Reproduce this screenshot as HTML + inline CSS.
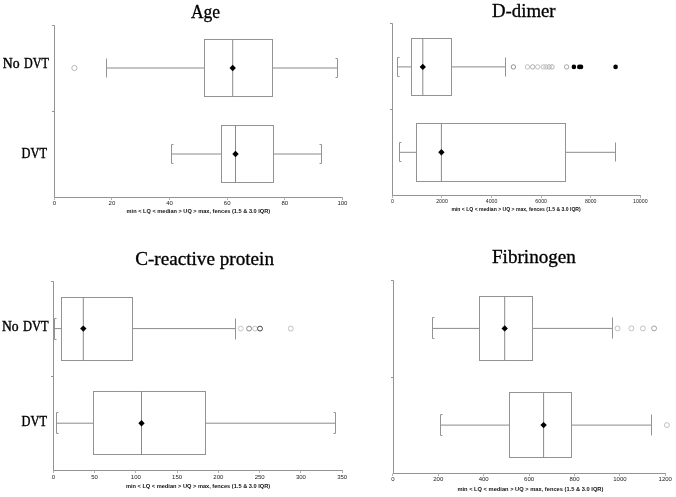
<!DOCTYPE html>
<html><head><meta charset="utf-8"><style>
html,body{margin:0;padding:0;background:#fff;}
body{width:676px;height:497px;overflow:hidden;}
svg{display:block;filter:grayscale(1);}
</style></head><body>
<svg width="676" height="497" viewBox="0 0 676 497">
<rect width="676" height="497" fill="#fff"/>
<line x1="54.5" y1="25.5" x2="54.5" y2="198" stroke="#939393" stroke-width="1"/>
<line x1="52" y1="25.5" x2="54.5" y2="25.5" stroke="#939393" stroke-width="1"/>
<line x1="52" y1="111.5" x2="54.5" y2="111.5" stroke="#939393" stroke-width="1"/>
<line x1="54" y1="197.5" x2="343" y2="197.5" stroke="#939393" stroke-width="1"/>
<line x1="54.5" y1="197.5" x2="54.5" y2="200" stroke="#b0b0b0" stroke-width="1"/>
<text x="54.3" y="205.4" font-family="'Liberation Sans', sans-serif" font-size="6.0" font-weight="normal" text-anchor="middle" fill="#222">0</text>
<line x1="111.5" y1="197.5" x2="111.5" y2="200" stroke="#b0b0b0" stroke-width="1"/>
<text x="111.92" y="205.4" font-family="'Liberation Sans', sans-serif" font-size="6.0" font-weight="normal" text-anchor="middle" fill="#222">20</text>
<line x1="169.5" y1="197.5" x2="169.5" y2="200" stroke="#b0b0b0" stroke-width="1"/>
<text x="169.54" y="205.4" font-family="'Liberation Sans', sans-serif" font-size="6.0" font-weight="normal" text-anchor="middle" fill="#222">40</text>
<line x1="227.5" y1="197.5" x2="227.5" y2="200" stroke="#b0b0b0" stroke-width="1"/>
<text x="227.16" y="205.4" font-family="'Liberation Sans', sans-serif" font-size="6.0" font-weight="normal" text-anchor="middle" fill="#222">60</text>
<line x1="284.5" y1="197.5" x2="284.5" y2="200" stroke="#b0b0b0" stroke-width="1"/>
<text x="284.78" y="205.4" font-family="'Liberation Sans', sans-serif" font-size="6.0" font-weight="normal" text-anchor="middle" fill="#222">80</text>
<line x1="342.5" y1="197.5" x2="342.5" y2="200" stroke="#b0b0b0" stroke-width="1"/>
<text x="342.4" y="205.4" font-family="'Liberation Sans', sans-serif" font-size="6.0" font-weight="normal" text-anchor="middle" fill="#222">100</text>
<text transform="translate(126.6 212.8) scale(1.0063 1)" font-family="'Liberation Sans', sans-serif" font-size="5.6" font-weight="bold" fill="#111">min &lt; LQ &lt; median &gt; UQ &gt; max, fences (1.5 &amp; 3.0 IQR)</text>
<text transform="translate(190.9 17.6) scale(0.9729 1)" font-family="'Liberation Serif', serif" font-size="18" font-weight="normal" fill="#000" stroke="#000" stroke-width="0.3">Age</text>
<line x1="106.5" y1="68" x2="204.5" y2="68" stroke="#8a8a8a" stroke-width="1"/>
<line x1="272.5" y1="68" x2="337.5" y2="68" stroke="#8a8a8a" stroke-width="1"/>
<line x1="106.5" y1="58.5" x2="106.5" y2="77.5" stroke="#939393" stroke-width="1"/>
<path d="M335.5 58.5H337.5V77.5H335.5" fill="none" stroke="#939393" stroke-width="1"/>
<rect x="204.5" y="39.5" width="68" height="57" fill="none" stroke="#939393" stroke-width="1"/>
<line x1="232.7" y1="39.5" x2="232.7" y2="96.5" stroke="#8a8a8a" stroke-width="1"/>
<path d="M232.7 64.8L235.9 68L232.7 71.2L229.5 68Z" fill="#000"/>
<circle cx="74.4" cy="68" r="2.6" fill="none" stroke="#b8b8b8" stroke-width="1"/>
<text transform="translate(2.75 67.8) scale(0.9818 1)" font-family="'Liberation Serif', serif" font-size="14" font-weight="normal" fill="#000" stroke="#000" stroke-width="0.4">No</text>
<text transform="translate(23.98 67.8) scale(0.8632 1)" font-family="'Liberation Serif', serif" font-size="14" font-weight="normal" fill="#000" stroke="#000" stroke-width="0.4">DVT</text>
<line x1="171.5" y1="154" x2="221.5" y2="154" stroke="#8a8a8a" stroke-width="1"/>
<line x1="273.5" y1="154" x2="321.5" y2="154" stroke="#8a8a8a" stroke-width="1"/>
<path d="M173.5 144.5H171.5V163.5H173.5" fill="none" stroke="#939393" stroke-width="1"/>
<path d="M319.5 144.5H321.5V163.5H319.5" fill="none" stroke="#939393" stroke-width="1"/>
<rect x="221.5" y="125.5" width="52" height="57" fill="none" stroke="#939393" stroke-width="1"/>
<line x1="235.5" y1="125.5" x2="235.5" y2="182.5" stroke="#8a8a8a" stroke-width="1"/>
<path d="M235.5 150.8L238.7 154L235.5 157.2L232.3 154Z" fill="#000"/>
<text transform="translate(21.58 157.9) scale(0.8842 1)" font-family="'Liberation Serif', serif" font-size="14" font-weight="normal" fill="#000" stroke="#000" stroke-width="0.4">DVT</text>
<line x1="392.5" y1="23.5" x2="392.5" y2="196" stroke="#939393" stroke-width="1"/>
<line x1="390" y1="23.5" x2="392.5" y2="23.5" stroke="#939393" stroke-width="1"/>
<line x1="390" y1="109.5" x2="392.5" y2="109.5" stroke="#939393" stroke-width="1"/>
<line x1="392" y1="195.5" x2="641" y2="195.5" stroke="#939393" stroke-width="1"/>
<line x1="392.5" y1="195.5" x2="392.5" y2="198" stroke="#b0b0b0" stroke-width="1"/>
<text transform="translate(392.4 203.1) scale(0.87 1)" font-family="'Liberation Sans', sans-serif" font-size="6.0" font-weight="normal" text-anchor="middle" fill="#222">0</text>
<line x1="441.5" y1="195.5" x2="441.5" y2="198" stroke="#b0b0b0" stroke-width="1"/>
<text transform="translate(441.98 203.1) scale(0.87 1)" font-family="'Liberation Sans', sans-serif" font-size="6.0" font-weight="normal" text-anchor="middle" fill="#222">2000</text>
<line x1="491.5" y1="195.5" x2="491.5" y2="198" stroke="#b0b0b0" stroke-width="1"/>
<text transform="translate(491.56 203.1) scale(0.87 1)" font-family="'Liberation Sans', sans-serif" font-size="6.0" font-weight="normal" text-anchor="middle" fill="#222">4000</text>
<line x1="541.5" y1="195.5" x2="541.5" y2="198" stroke="#b0b0b0" stroke-width="1"/>
<text transform="translate(541.14 203.1) scale(0.87 1)" font-family="'Liberation Sans', sans-serif" font-size="6.0" font-weight="normal" text-anchor="middle" fill="#222">6000</text>
<line x1="590.5" y1="195.5" x2="590.5" y2="198" stroke="#b0b0b0" stroke-width="1"/>
<text transform="translate(590.72 203.1) scale(0.87 1)" font-family="'Liberation Sans', sans-serif" font-size="6.0" font-weight="normal" text-anchor="middle" fill="#222">8000</text>
<line x1="640.5" y1="195.5" x2="640.5" y2="198" stroke="#b0b0b0" stroke-width="1"/>
<text transform="translate(640.3 203.1) scale(0.87 1)" font-family="'Liberation Sans', sans-serif" font-size="6.0" font-weight="normal" text-anchor="middle" fill="#222">10000</text>
<text transform="translate(451.45 211.3) scale(0.9085 1)" font-family="'Liberation Sans', sans-serif" font-size="5.6" font-weight="bold" fill="#111">min &lt; LQ &lt; median &gt; UQ &gt; max, fences (1.5 &amp; 3.0 IQR)</text>
<text transform="translate(492.04 16.7) scale(1.0436 1)" font-family="'Liberation Serif', serif" font-size="18" font-weight="normal" fill="#000" stroke="#000" stroke-width="0.3">D-dimer</text>
<line x1="397.5" y1="66.9" x2="411.5" y2="66.9" stroke="#8a8a8a" stroke-width="1"/>
<line x1="451.5" y1="66.9" x2="505.5" y2="66.9" stroke="#8a8a8a" stroke-width="1"/>
<path d="M399.5 57.5H397.5V76.5H399.5" fill="none" stroke="#939393" stroke-width="1"/>
<line x1="505.5" y1="57.5" x2="505.5" y2="76.5" stroke="#939393" stroke-width="1"/>
<rect x="411.5" y="38.5" width="40" height="57" fill="none" stroke="#939393" stroke-width="1"/>
<line x1="422.8" y1="38.5" x2="422.8" y2="95.5" stroke="#8a8a8a" stroke-width="1"/>
<path d="M422.8 63.7L426 66.9L422.8 70.1L419.6 66.9Z" fill="#000"/>
<circle cx="513.4" cy="66.9" r="2.2" fill="none" stroke="#909090" stroke-width="1"/>
<circle cx="527.4" cy="66.9" r="2.2" fill="none" stroke="#c0c0c0" stroke-width="1"/>
<circle cx="532.7" cy="66.9" r="2.2" fill="none" stroke="#b0b0b0" stroke-width="1"/>
<circle cx="537.7" cy="66.9" r="2.2" fill="none" stroke="#c0c0c0" stroke-width="1"/>
<circle cx="543.3" cy="66.9" r="2.2" fill="none" stroke="#c0c0c0" stroke-width="1"/>
<circle cx="546" cy="66.9" r="2.2" fill="none" stroke="#c0c0c0" stroke-width="1"/>
<circle cx="549.1" cy="66.9" r="2.2" fill="none" stroke="#b0b0b0" stroke-width="1"/>
<circle cx="552" cy="66.9" r="2.2" fill="none" stroke="#b0b0b0" stroke-width="1"/>
<circle cx="566.6" cy="66.9" r="2.2" fill="none" stroke="#a8a8a8" stroke-width="1"/>
<circle cx="573.9" cy="66.9" r="2.3" fill="#000"/>
<circle cx="579.3" cy="66.9" r="2.3" fill="#000"/>
<circle cx="581" cy="66.9" r="2.3" fill="#000"/>
<circle cx="615.6" cy="66.9" r="2.3" fill="#000"/>
<line x1="399.5" y1="152.3" x2="416.5" y2="152.3" stroke="#8a8a8a" stroke-width="1"/>
<line x1="565.5" y1="152.3" x2="615.5" y2="152.3" stroke="#8a8a8a" stroke-width="1"/>
<path d="M401.5 142.5H399.5V161.5H401.5" fill="none" stroke="#939393" stroke-width="1"/>
<line x1="615.5" y1="142.5" x2="615.5" y2="161.5" stroke="#939393" stroke-width="1"/>
<rect x="416.5" y="123.5" width="149" height="58" fill="none" stroke="#939393" stroke-width="1"/>
<line x1="441.4" y1="123.5" x2="441.4" y2="181.5" stroke="#8a8a8a" stroke-width="1"/>
<path d="M441.4 149.1L444.6 152.3L441.4 155.5L438.2 152.3Z" fill="#000"/>
<line x1="53.5" y1="281.5" x2="53.5" y2="471" stroke="#939393" stroke-width="1"/>
<line x1="51" y1="281.5" x2="53.5" y2="281.5" stroke="#939393" stroke-width="1"/>
<line x1="51" y1="376.5" x2="53.5" y2="376.5" stroke="#939393" stroke-width="1"/>
<line x1="53" y1="470.5" x2="343" y2="470.5" stroke="#939393" stroke-width="1"/>
<line x1="53.5" y1="470.5" x2="53.5" y2="473" stroke="#b0b0b0" stroke-width="1"/>
<text x="53.3" y="478.9" font-family="'Liberation Sans', sans-serif" font-size="6.0" font-weight="normal" text-anchor="middle" fill="#222">0</text>
<line x1="94.5" y1="470.5" x2="94.5" y2="473" stroke="#b0b0b0" stroke-width="1"/>
<text x="94.57" y="478.9" font-family="'Liberation Sans', sans-serif" font-size="6.0" font-weight="normal" text-anchor="middle" fill="#222">50</text>
<line x1="135.5" y1="470.5" x2="135.5" y2="473" stroke="#b0b0b0" stroke-width="1"/>
<text x="135.84" y="478.9" font-family="'Liberation Sans', sans-serif" font-size="6.0" font-weight="normal" text-anchor="middle" fill="#222">100</text>
<line x1="177.5" y1="470.5" x2="177.5" y2="473" stroke="#b0b0b0" stroke-width="1"/>
<text x="177.11" y="478.9" font-family="'Liberation Sans', sans-serif" font-size="6.0" font-weight="normal" text-anchor="middle" fill="#222">150</text>
<line x1="218.5" y1="470.5" x2="218.5" y2="473" stroke="#b0b0b0" stroke-width="1"/>
<text x="218.38" y="478.9" font-family="'Liberation Sans', sans-serif" font-size="6.0" font-weight="normal" text-anchor="middle" fill="#222">200</text>
<line x1="259.5" y1="470.5" x2="259.5" y2="473" stroke="#b0b0b0" stroke-width="1"/>
<text x="259.65" y="478.9" font-family="'Liberation Sans', sans-serif" font-size="6.0" font-weight="normal" text-anchor="middle" fill="#222">250</text>
<line x1="300.5" y1="470.5" x2="300.5" y2="473" stroke="#b0b0b0" stroke-width="1"/>
<text x="300.92" y="478.9" font-family="'Liberation Sans', sans-serif" font-size="6.0" font-weight="normal" text-anchor="middle" fill="#222">300</text>
<line x1="342.5" y1="470.5" x2="342.5" y2="473" stroke="#b0b0b0" stroke-width="1"/>
<text x="342.19" y="478.9" font-family="'Liberation Sans', sans-serif" font-size="6.0" font-weight="normal" text-anchor="middle" fill="#222">350</text>
<text transform="translate(125.89 488) scale(1.0113 1)" font-family="'Liberation Sans', sans-serif" font-size="5.6" font-weight="bold" fill="#111">min &lt; LQ &lt; median &gt; UQ &gt; max, fences (1.5 &amp; 3.0 IQR)</text>
<text transform="translate(135.17 265.1) scale(1.0651 1)" font-family="'Liberation Serif', serif" font-size="18" font-weight="normal" fill="#000" stroke="#000" stroke-width="0.3">C-reactive protein</text>
<line x1="54.5" y1="328.6" x2="61.5" y2="328.6" stroke="#8a8a8a" stroke-width="1"/>
<line x1="132.5" y1="328.6" x2="235.5" y2="328.6" stroke="#8a8a8a" stroke-width="1"/>
<path d="M56.5 318.5H54.5V339.5H56.5" fill="none" stroke="#939393" stroke-width="1"/>
<line x1="235.5" y1="318.5" x2="235.5" y2="339.5" stroke="#939393" stroke-width="1"/>
<rect x="61.5" y="297.5" width="71" height="63" fill="none" stroke="#939393" stroke-width="1"/>
<line x1="83.3" y1="297.5" x2="83.3" y2="360.5" stroke="#8a8a8a" stroke-width="1"/>
<path d="M83.3 325.4L86.5 328.6L83.3 331.8L80.1 328.6Z" fill="#000"/>
<circle cx="240.8" cy="328.6" r="2.45" fill="none" stroke="#c8c8c8" stroke-width="1"/>
<circle cx="249.1" cy="328.6" r="2.45" fill="none" stroke="#8a8a8a" stroke-width="1"/>
<circle cx="255.1" cy="328.6" r="2.45" fill="none" stroke="#c8c8c8" stroke-width="1"/>
<circle cx="260" cy="328.6" r="2.45" fill="none" stroke="#444" stroke-width="1"/>
<circle cx="290.8" cy="328.6" r="2.45" fill="none" stroke="#c0c0c0" stroke-width="1"/>
<text transform="translate(1.96 330.9) scale(0.9758 1)" font-family="'Liberation Serif', serif" font-size="14" font-weight="normal" fill="#000" stroke="#000" stroke-width="0.4">No</text>
<text transform="translate(23.08 330.9) scale(0.8877 1)" font-family="'Liberation Serif', serif" font-size="14" font-weight="normal" fill="#000" stroke="#000" stroke-width="0.4">DVT</text>
<line x1="56.5" y1="423.2" x2="93.5" y2="423.2" stroke="#8a8a8a" stroke-width="1"/>
<line x1="205.5" y1="423.2" x2="335.5" y2="423.2" stroke="#8a8a8a" stroke-width="1"/>
<path d="M58.5 412.5H56.5V433.5H58.5" fill="none" stroke="#939393" stroke-width="1"/>
<path d="M333.5 412.5H335.5V433.5H333.5" fill="none" stroke="#939393" stroke-width="1"/>
<rect x="93.5" y="391.5" width="112" height="63" fill="none" stroke="#939393" stroke-width="1"/>
<line x1="141.5" y1="391.5" x2="141.5" y2="454.5" stroke="#8a8a8a" stroke-width="1"/>
<path d="M141.5 420L144.7 423.2L141.5 426.4L138.3 423.2Z" fill="#000"/>
<text transform="translate(21.58 426.1) scale(0.8842 1)" font-family="'Liberation Serif', serif" font-size="14" font-weight="normal" fill="#000" stroke="#000" stroke-width="0.4">DVT</text>
<line x1="393.5" y1="280.5" x2="393.5" y2="474" stroke="#939393" stroke-width="1"/>
<line x1="391" y1="280.5" x2="393.5" y2="280.5" stroke="#939393" stroke-width="1"/>
<line x1="391" y1="377.5" x2="393.5" y2="377.5" stroke="#939393" stroke-width="1"/>
<line x1="393" y1="473.5" x2="666" y2="473.5" stroke="#939393" stroke-width="1"/>
<line x1="392.5" y1="473.5" x2="392.5" y2="476" stroke="#b0b0b0" stroke-width="1"/>
<text x="392.9" y="481.4" font-family="'Liberation Sans', sans-serif" font-size="6.0" font-weight="normal" text-anchor="middle" fill="#222">0</text>
<line x1="438.5" y1="473.5" x2="438.5" y2="476" stroke="#b0b0b0" stroke-width="1"/>
<text x="438.3" y="481.4" font-family="'Liberation Sans', sans-serif" font-size="6.0" font-weight="normal" text-anchor="middle" fill="#222">200</text>
<line x1="483.5" y1="473.5" x2="483.5" y2="476" stroke="#b0b0b0" stroke-width="1"/>
<text x="483.7" y="481.4" font-family="'Liberation Sans', sans-serif" font-size="6.0" font-weight="normal" text-anchor="middle" fill="#222">400</text>
<line x1="529.5" y1="473.5" x2="529.5" y2="476" stroke="#b0b0b0" stroke-width="1"/>
<text x="529.1" y="481.4" font-family="'Liberation Sans', sans-serif" font-size="6.0" font-weight="normal" text-anchor="middle" fill="#222">600</text>
<line x1="574.5" y1="473.5" x2="574.5" y2="476" stroke="#b0b0b0" stroke-width="1"/>
<text x="574.5" y="481.4" font-family="'Liberation Sans', sans-serif" font-size="6.0" font-weight="normal" text-anchor="middle" fill="#222">800</text>
<line x1="619.5" y1="473.5" x2="619.5" y2="476" stroke="#b0b0b0" stroke-width="1"/>
<text x="619.9" y="481.4" font-family="'Liberation Sans', sans-serif" font-size="6.0" font-weight="normal" text-anchor="middle" fill="#222">1000</text>
<line x1="665.5" y1="473.5" x2="665.5" y2="476" stroke="#b0b0b0" stroke-width="1"/>
<text x="665.3" y="481.4" font-family="'Liberation Sans', sans-serif" font-size="6.0" font-weight="normal" text-anchor="middle" fill="#222">1200</text>
<text transform="translate(457.39 490.6) scale(1.0239 1)" font-family="'Liberation Sans', sans-serif" font-size="5.6" font-weight="bold" fill="#111">min &lt; LQ &lt; median &gt; UQ &gt; max, fences (1.5 &amp; 3.0 IQR)</text>
<text transform="translate(491.93 262.6) scale(1.0637 1)" font-family="'Liberation Serif', serif" font-size="18" font-weight="normal" fill="#000" stroke="#000" stroke-width="0.3">Fibrinogen</text>
<line x1="432.5" y1="328.4" x2="479.5" y2="328.4" stroke="#8a8a8a" stroke-width="1"/>
<line x1="532.5" y1="328.4" x2="612.5" y2="328.4" stroke="#8a8a8a" stroke-width="1"/>
<path d="M434.5 317.5H432.5V338.5H434.5" fill="none" stroke="#939393" stroke-width="1"/>
<line x1="612.5" y1="317.5" x2="612.5" y2="338.5" stroke="#939393" stroke-width="1"/>
<rect x="479.5" y="296.5" width="53" height="64" fill="none" stroke="#939393" stroke-width="1"/>
<line x1="504.7" y1="296.5" x2="504.7" y2="360.5" stroke="#8a8a8a" stroke-width="1"/>
<path d="M504.7 325.2L507.9 328.4L504.7 331.6L501.5 328.4Z" fill="#000"/>
<circle cx="617.6" cy="328.4" r="2.45" fill="none" stroke="#c0c0c0" stroke-width="1"/>
<circle cx="631.4" cy="328.4" r="2.45" fill="none" stroke="#c0c0c0" stroke-width="1"/>
<circle cx="642.9" cy="328.4" r="2.45" fill="none" stroke="#c0c0c0" stroke-width="1"/>
<circle cx="654.1" cy="328.4" r="2.45" fill="none" stroke="#a0a0a0" stroke-width="1"/>
<line x1="440.5" y1="425.1" x2="509.5" y2="425.1" stroke="#8a8a8a" stroke-width="1"/>
<line x1="571.5" y1="425.1" x2="651.5" y2="425.1" stroke="#8a8a8a" stroke-width="1"/>
<path d="M442.5 414.5H440.5V435.5H442.5" fill="none" stroke="#939393" stroke-width="1"/>
<line x1="651.5" y1="414.5" x2="651.5" y2="435.5" stroke="#939393" stroke-width="1"/>
<rect x="509.5" y="392.5" width="62" height="65" fill="none" stroke="#939393" stroke-width="1"/>
<line x1="543.6" y1="392.5" x2="543.6" y2="457.5" stroke="#8a8a8a" stroke-width="1"/>
<path d="M543.6 421.9L546.8 425.1L543.6 428.3L540.4 425.1Z" fill="#000"/>
<circle cx="666.9" cy="425.1" r="2.45" fill="none" stroke="#c0c0c0" stroke-width="1"/>
</svg>
</body></html>
